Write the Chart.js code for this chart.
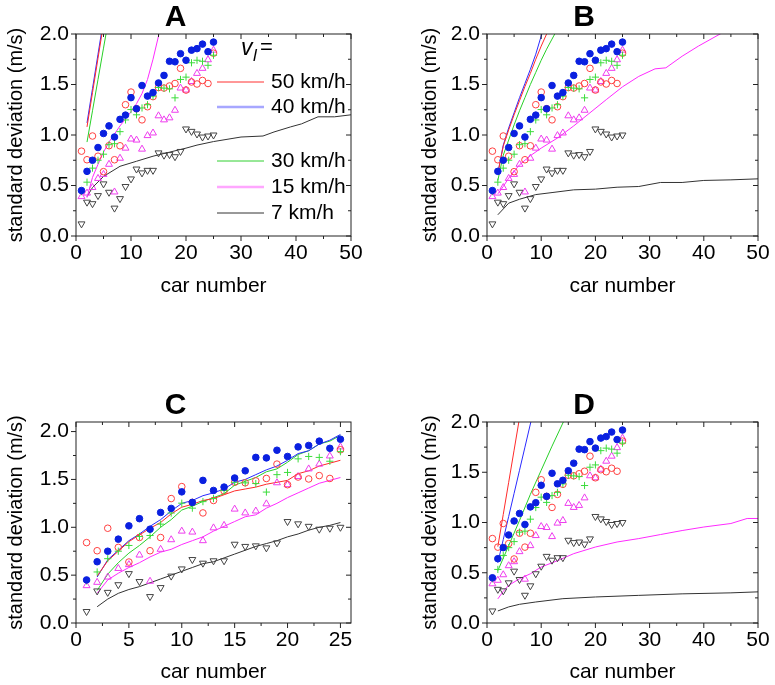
<!DOCTYPE html>
<html>
<head>
<meta charset="utf-8">
<script src="https://cdn.jsdelivr.net/npm/chart.js@4.4.0/dist/chart.umd.min.js"></script>
<style>
  body { margin: 0; background: #fff; width: 775px; height: 685px; position: relative; overflow: hidden; }
  canvas { position: absolute; }
</style>
</head>
<body>
<canvas id="panelA" width="387" height="300" style="left:0;top:0"></canvas>
<canvas id="panelB" width="365" height="300" style="left:410px;top:0"></canvas>
<canvas id="panelC" width="387" height="300" style="left:0;top:385px"></canvas>
<canvas id="panelD" width="365" height="300" style="left:410px;top:385px"></canvas>
<script>
// measured data (same in every panel)
const carNumber = [1, 2, 3, 4, 5, 6, 7, 8, 9, 10, 11, 12, 13, 14, 15, 16, 17, 18, 19, 20, 21, 22, 23, 24, 25];
const meas50 = [0.84, 0.755, 0.99, 0.79, 0.637, 0.894, 0.755, 0.893, 1.30, 1.425, 1.26, 1.15, 1.28, 1.38, 1.47, 1.465, 1.485, 1.51, 1.66, 1.445, 1.525, 1.505, 1.54, 1.51, 1.81];
const meas40 = [0.45, 0.64, 0.75, 0.876, 1.015, 1.09, 0.98, 1.155, 1.197, 1.37, 1.26, 1.49, 1.385, 1.42, 1.515, 1.59, 1.73, 1.725, 1.805, 1.74, 1.84, 1.855, 1.9, 1.825, 1.92];
const meas30 = [0.44, 0.533, 0.672, 0.75, 0.81, 0.904, 0.914, 1.033, 1.149, 1.252, 1.20, 1.268, 1.30, 1.384, 1.47, 1.464, 1.457, 1.368, 1.55, 1.573, 1.715, 1.74, 1.73, 1.69, 1.79];
const meas15 = [0.39, 0.425, 0.48, 0.57, 0.61, 0.71, 0.436, 0.77, 0.87, 0.96, 0.95, 0.86, 0.994, 1.02, 1.19, 1.15, 1.17, 1.245, 1.465, 1.445, 1.53, 1.61, 1.66, 1.745, 1.84];
const meas7 = [0.12, 0.335, 0.32, 0.40, 0.516, 0.433, 0.276, 0.37, 0.49, 0.565, 0.663, 0.625, 0.65, 0.65, 0.823, 0.80, 0.806, 0.785, 0.837, 1.06, 1.036, 1.01, 0.98, 0.99, 1.00];

// model curves, panel A
const aX50 = [2, 3, 4, 5];
const aY50 = [1.08, 1.42, 1.76, 2.1];
const aX40 = [2, 3, 4, 5];
const aY40 = [1.12, 1.46, 1.8, 2.14];
const aX30 = [2, 3, 4, 5, 6];
const aY30 = [0.93, 1.24, 1.55, 1.86, 2.17];
const aX15 = [2, 3, 4, 5, 6, 7, 8, 9, 10, 11, 12, 13, 14, 15, 16];
const aY15 = [0.38, 0.58, 0.71, 0.83, 0.93, 1.01, 1.09, 1.16, 1.23, 1.31, 1.41, 1.55, 1.75, 1.98, 2.25];
const aX7 = [2, 3, 5, 8, 11, 14, 17, 20, 22, 25, 30, 34, 36, 39, 41, 44, 47, 50];
const aY7 = [0.39, 0.48, 0.59, 0.69, 0.74, 0.79, 0.83, 0.87, 0.90, 0.935, 0.98, 0.99, 1.03, 1.08, 1.11, 1.18, 1.18, 1.20];

// model curves, panel B
const bX50 = [2, 3, 4, 5, 6, 7, 8, 9, 10, 11, 12];
const bY50 = [0.62, 0.89, 1.05, 1.2, 1.34, 1.48, 1.61, 1.75, 1.88, 2.0, 2.12];
const bX40 = [2, 3, 4, 5, 6, 7, 8, 9, 10, 11];
const bY40 = [0.62, 0.9, 1.07, 1.22, 1.37, 1.51, 1.65, 1.8, 1.98, 2.15];
const bX30 = [2, 3, 4, 5, 6, 7, 8, 9, 10, 11, 12, 13];
const bY30 = [0.55, 0.8, 0.95, 1.1, 1.24, 1.37, 1.5, 1.62, 1.74, 1.85, 1.95, 2.05];
const bX15 = [2, 3, 4, 6, 8, 10, 13, 16, 19, 22, 25, 28, 31, 33, 36, 39, 43, 45];
const bY15 = [0.417, 0.49, 0.573, 0.705, 0.795, 0.87, 0.97, 1.09, 1.22, 1.35, 1.477, 1.58, 1.655, 1.665, 1.78, 1.88, 2.0, 2.06];
const bX7 = [2, 4, 6, 9, 12, 16, 20, 24, 28, 32, 36, 40, 45, 50];
const bY7 = [0.21, 0.325, 0.364, 0.41, 0.43, 0.457, 0.464, 0.483, 0.49, 0.53, 0.53, 0.55, 0.556, 0.566];

// model curves, panel C
const cX = [2, 3, 4, 5, 6, 7, 8, 9, 10, 11, 12, 13, 14, 15, 16, 17, 18, 19, 20, 21, 22, 23, 24, 25];
const cY50 = [0.49, 0.65, 0.75, 0.85, 0.92, 0.99, 1.05, 1.14, 1.21, 1.24, 1.28, 1.30, 1.34, 1.38, 1.40, 1.42, 1.45, 1.47, 1.49, 1.56, 1.59, 1.64, 1.67, 1.70];
const cY40 = [0.48, 0.66, 0.76, 0.86, 0.93, 1.01, 1.08, 1.17, 1.25, 1.28, 1.33, 1.36, 1.40, 1.47, 1.50, 1.55, 1.60, 1.64, 1.70, 1.77, 1.80, 1.87, 1.91, 1.97];
const cY30 = [0.34, 0.51, 0.63, 0.73, 0.81, 0.90, 1.00, 1.08, 1.18, 1.22, 1.27, 1.31, 1.35, 1.44, 1.48, 1.52, 1.58, 1.61, 1.68, 1.76, 1.80, 1.87, 1.90, 1.96];
const cY15 = [0.31, 0.45, 0.52, 0.58, 0.63, 0.69, 0.74, 0.77, 0.82, 0.86, 0.90, 0.96, 1.01, 1.06, 1.11, 1.13, 1.20, 1.25, 1.31, 1.36, 1.41, 1.46, 1.49, 1.52];
const cY7 = [0.17, 0.25, 0.31, 0.35, 0.38, 0.42, 0.46, 0.50, 0.54, 0.58, 0.62, 0.64, 0.68, 0.72, 0.76, 0.80, 0.83, 0.86, 0.90, 0.93, 0.97, 1.00, 1.02, 1.05];

// model curves, panel D
const dX50 = [2, 3, 4, 5, 6];
const dY50 = [0.76, 1.08, 1.4, 1.72, 2.04];
const dX40 = [2, 3, 4, 5, 6, 7, 8, 9];
const dY40 = [0.6, 0.83, 1.06, 1.29, 1.52, 1.75, 1.98, 2.2];
const dX30 = [2, 4, 6, 8, 10, 12, 14, 16];
const dY30 = [0.52, 0.77, 1.02, 1.28, 1.52, 1.76, 1.99, 2.23];
const dX15 = [2, 3, 4, 6, 8, 10, 13, 16, 20, 24, 28, 32, 36, 40, 45, 48, 50];
const dY15 = [0.24, 0.315, 0.375, 0.44, 0.49, 0.557, 0.62, 0.69, 0.756, 0.806, 0.84, 0.88, 0.92, 0.955, 0.99, 1.04, 1.04];
const dX7 = [2, 4, 6, 9, 14, 20, 28, 36, 45, 50];
const dY7 = [0.12, 0.16, 0.186, 0.209, 0.242, 0.259, 0.275, 0.29, 0.30, 0.31];

const speedLabels = ['50 km/h', '40 km/h', '30 km/h', '15 km/h', '7 km/h'];

const FONT = "'Liberation Sans', Arial, sans-serif";
Chart.defaults.font.family = FONT;
Chart.defaults.color = '#000';

const lineColors = ['#ff2a2a', '#2a2aff', '#28d028', '#ff2aff', '#333333'];

const zip = (xs, ys) => xs.map((x, i) => ({ x: x, y: ys[i] }));

function lineSet(xs, ys, i) {
  return {
    label: speedLabels[i] + ' model',
    data: zip(xs, ys),
    showLine: true,
    borderColor: lineColors[i],
    borderWidth: 1,
    pointRadius: 0,
    tension: 0,
    order: 10
  };
}

function measSets() {
  return [
    { label: '50', data: zip(carNumber, meas50), pointStyle: 'circle', pointRadius: 3.3,
      borderColor: '#ff4040', backgroundColor: 'rgba(0,0,0,0)', pointBorderWidth: 1, order: 3 },
    { label: '30', data: zip(carNumber, meas30), pointStyle: 'cross', pointRadius: 3.6,
      borderColor: '#3cdc3c', backgroundColor: '#3cdc3c', pointBorderWidth: 1, order: 2 },
    { label: '40', data: zip(carNumber, meas40), pointStyle: 'circle', pointRadius: 3.3,
      borderColor: '#0a20e0', backgroundColor: '#0a20e0', pointBorderWidth: 1, order: 1 },
    { label: '15', data: zip(carNumber, meas15), pointStyle: 'triangle', pointRadius: 4,
      borderColor: '#ee3cee', backgroundColor: 'rgba(0,0,0,0)', pointBorderWidth: 1, order: 4 },
    { label: '7', data: zip(carNumber, meas7), pointStyle: 'triangle', pointRotation: 180, pointRadius: 4,
      borderColor: '#444444', backgroundColor: 'rgba(0,0,0,0)', pointBorderWidth: 1, order: 5 }
  ];
}

// frame with outer ticks on left/bottom and inner ticks on top/right
const framePlugin = {
  id: 'frame',
  afterDatasetsDraw(chart) {
    const { ctx, chartArea: ca, scales } = chart;
    ctx.save();
    ctx.strokeStyle = '#222';
    ctx.lineWidth = 1;
    ctx.strokeRect(ca.left, ca.top, ca.right - ca.left, ca.bottom - ca.top);
    ctx.beginPath();
    scales.x.ticks.forEach(t => {
      const px = scales.x.getPixelForValue(t.value);
      const len = t.label !== '' ? 5 : 3;
      ctx.moveTo(px, ca.bottom); ctx.lineTo(px, ca.bottom + len);
      ctx.moveTo(px, ca.top); ctx.lineTo(px, ca.top + len);
    });
    scales.y.ticks.forEach(t => {
      const py = scales.y.getPixelForValue(t.value);
      const len = t.label !== '' ? 5 : 3;
      ctx.moveTo(ca.left - len, py); ctx.lineTo(ca.left, py);
      ctx.moveTo(ca.right - len, py); ctx.lineTo(ca.right, py);
    });
    ctx.stroke();
    ctx.restore();
  }
};

// speed legend drawn inside panel A
const speedLegend = {
  id: 'speedLegend',
  afterDraw(chart) {
    if (!chart.options.plugins.speedLegend.show) return;
    const { ctx, chartArea: ca } = chart;
    const x0 = ca.left + 141, x1 = ca.left + 188, tx = ca.left + 195;
    const rows = [48, 73, 127, 153, 179];
    const widths = [1, 2.5, 1, 2.5, 1];
    const colors = ['#ff3030', 'rgba(60,60,255,0.45)', '#30d030', 'rgba(255,60,255,0.45)', '#333'];
    ctx.save();
    ctx.fillStyle = '#000';
    ctx.textBaseline = 'alphabetic';
    ctx.font = 'italic 23px ' + FONT;
    ctx.fillText('v', ca.left + 165, ca.top + 21);
    ctx.font = 'italic 17px ' + FONT;
    ctx.fillText('l', ca.left + 177, ca.top + 27);
    ctx.font = '22px ' + FONT;
    ctx.fillText('=', ca.left + 184, ca.top + 20);
    ctx.font = '21px ' + FONT;
    ctx.textBaseline = 'middle';
    rows.forEach((r, i) => {
      ctx.strokeStyle = colors[i];
      ctx.lineWidth = widths[i];
      ctx.beginPath();
      ctx.moveTo(x0, ca.top + r);
      ctx.lineTo(x1, ca.top + r);
      ctx.stroke();
      ctx.fillText(speedLabels[i], tx, ca.top + r);
    });
    ctx.restore();
  }
};

function makePanel(id, title, lines, xMax, xStep, xLabelStep, yMax, pad, legend) {
  const yLabelStep = 0.5;
  const isMajor = (v, s) => Math.abs(v / s - Math.round(v / s)) < 1e-6;
  new Chart(document.getElementById(id), {
    type: 'scatter',
    data: { datasets: lines.concat(measSets()) },
    plugins: [framePlugin, speedLegend],
    options: {
      responsive: false,
      animation: false,
      layout: { padding: pad },
      plugins: {
        legend: { display: false },
        tooltip: { enabled: false },
        title: { display: true, text: title, color: '#000',
          font: { size: 30, weight: 'bold', lineHeight: 1 }, padding: { top: 3, bottom: 1 } },
        speedLegend: { show: legend }
      },
      scales: {
        x: {
          type: 'linear', min: 0, max: xMax,
          afterFit: s => { s.height = pad.xh; },
          grid: { display: false, drawTicks: true, tickLength: 5 },
          border: { display: false },
          ticks: { stepSize: xStep, autoSkip: false, maxRotation: 0, padding: 0, includeBounds: false,
            font: { size: 21 }, color: '#000',
            callback: v => isMajor(v, xLabelStep) ? String(v) : '' },
          title: { display: true, text: 'car number', font: { size: 21 }, color: '#000',
            padding: { top: 0, bottom: pad.xb } }
        },
        y: {
          type: 'linear', min: 0, max: yMax,
          afterFit: s => { s.width = pad.yw; },
          grid: { display: false, drawTicks: true, tickLength: 5 },
          border: { display: false },
          ticks: { stepSize: 0.25, autoSkip: false, padding: 2, includeBounds: false,
            font: { size: 21 }, color: '#000',
            callback: v => isMajor(v, yLabelStep) ? v.toFixed(1) : '' },
          title: { display: true, text: 'standard deviation (m/s)', font: { size: 20 }, color: '#000',
            padding: { top: pad.yt, bottom: 0 } }
        }
      }
    }
  });
}

makePanel('panelA', 'A',
  [lineSet(aX50, aY50, 0), lineSet(aX40, aY40, 1), lineSet(aX30, aY30, 2), lineSet(aX15, aY15, 3), lineSet(aX7, aY7, 4)],
  50, 5, 10, 2.0, { left: 0, top: 0, right: 36, bottom: 0, xh: 64, yw: 76, yt: 4, xb: 1 }, true);

makePanel('panelB', 'B',
  [lineSet(bX50, bY50, 0), lineSet(bX40, bY40, 1), lineSet(bX30, bY30, 2), lineSet(bX15, bY15, 3), lineSet(bX7, bY7, 4)],
  50, 5, 10, 2.0, { left: 0, top: 0, right: 17, bottom: 0, xh: 64, yw: 77, yt: 8, xb: 1 }, false);

makePanel('panelC', 'C',
  [lineSet(cX, cY50, 0), lineSet(cX, cY40, 1), lineSet(cX, cY30, 2), lineSet(cX, cY15, 3), lineSet(cX, cY7, 4)],
  26, 2.5, 5, 2.1, { left: 0, top: 3, right: 36, bottom: 0, xh: 62, yw: 76, yt: 4, xb: 0 }, false);

makePanel('panelD', 'D',
  [lineSet(dX50, dY50, 0), lineSet(dX40, dY40, 1), lineSet(dX30, dY30, 2), lineSet(dX15, dY15, 3), lineSet(dX7, dY7, 4)],
  50, 5, 10, 2.0, { left: 0, top: 3, right: 17, bottom: 0, xh: 62, yw: 77, yt: 8, xb: 0 }, false);
</script>
</body>
</html>
